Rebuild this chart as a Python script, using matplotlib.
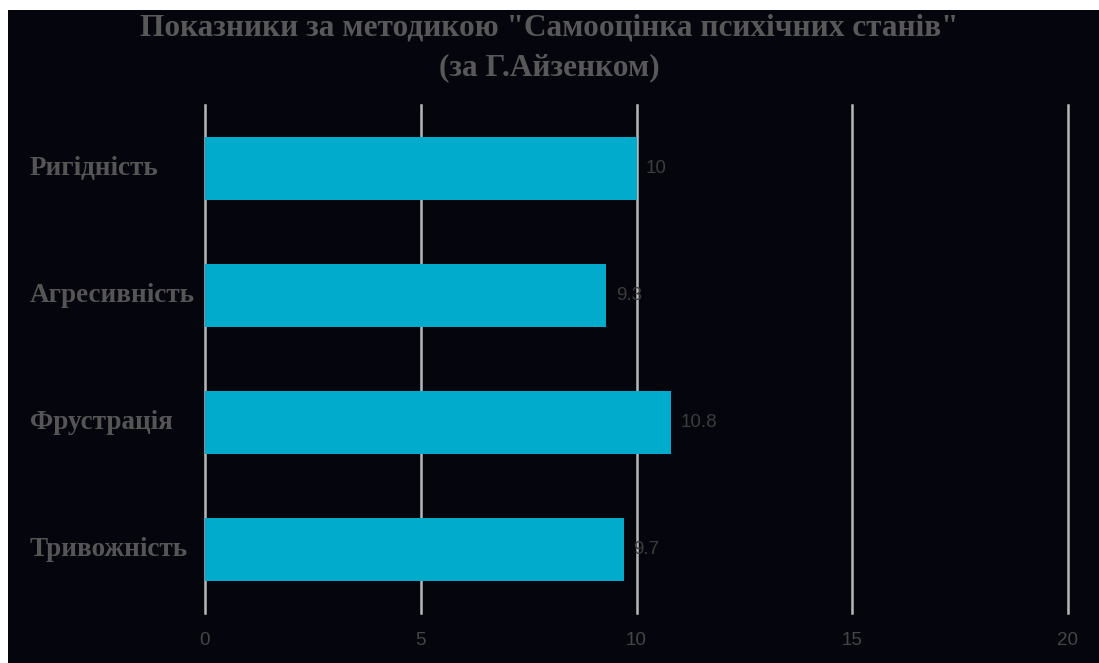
import matplotlib
matplotlib.use('Agg')
import matplotlib.pyplot as plt
from matplotlib.patches import Rectangle

categories = ['Ригідність', 'Агресивність', 'Фрустрація', 'Тривожність']
values = [10, 9.3, 10.8, 9.7]
value_labels = ['10', '9.3', '10.8', '9.7']
xticks = [0, 5, 10, 15, 20]

bg = '#05050d'
bar_color = '#00abcc'

fig = plt.figure(figsize=(10.99, 6.63), dpi=100)
fig.patch.set_facecolor('white')
# dark panel, leaving the thin white strip at left/top
fig.patches.append(Rectangle((8 / 1099, 0), 1, 1 - 10 / 663, transform=fig.transFigure,
                             facecolor=bg, edgecolor='none', zorder=-5))

ax = fig.add_axes([205 / 1099, 1 - 613 / 663, (1068 - 205) / 1099, (613 - 105) / 663])
ax.set_facecolor(bg)

pos = list(range(len(categories)))
ax.barh(pos, values, height=0.5, color=bar_color, zorder=3)
for p, v, lab in zip(pos, values, value_labels):
    ax.text(v + 0.22, p, lab, va='center', ha='left', fontsize=13.5,
            color='#3c3c3c', family='Liberation Sans', zorder=4)

ax.set_xlim(0, 20)
ax.set_ylim(len(categories) - 0.5, -0.5)
ax.set_xticks(xticks)
ax.set_xticklabels([str(t) for t in xticks], fontsize=13.5, color='#454545', family='Liberation Sans')
ax.set_yticks(pos)
ax.set_yticklabels([])
ax.tick_params(length=0, pad=14)
ax.grid(axis='x', color='#b8b8b8', linewidth=1.8, zorder=1)
for gl in ax.get_xgridlines():
    gl.set_clip_on(False)
for s in ax.spines.values():
    s.set_visible(False)

for p, c in zip(pos, categories):
    y = ax.transData.transform((0, p))[1]
    fig.text(30 / 1099, y / fig.dpi / 6.63, c, ha='left', va='center', fontsize=19.5,
             fontweight='bold', color='#555555', family='Liberation Serif')

fig.text(0.5, 1 - 28 / 663, 'Показники за методикою "Самооцінка психічних станів"',
         ha='center', va='center', fontsize=22.5, fontweight='bold', color='#585858',
         family='Liberation Serif')
fig.text(0.5, 1 - 68 / 663, '(за Г.Айзенком)', ha='center', va='center', fontsize=22.5,
         fontweight='bold', color='#585858', family='Liberation Serif')

fig.savefig('out.png', dpi=100, facecolor=fig.get_facecolor())
